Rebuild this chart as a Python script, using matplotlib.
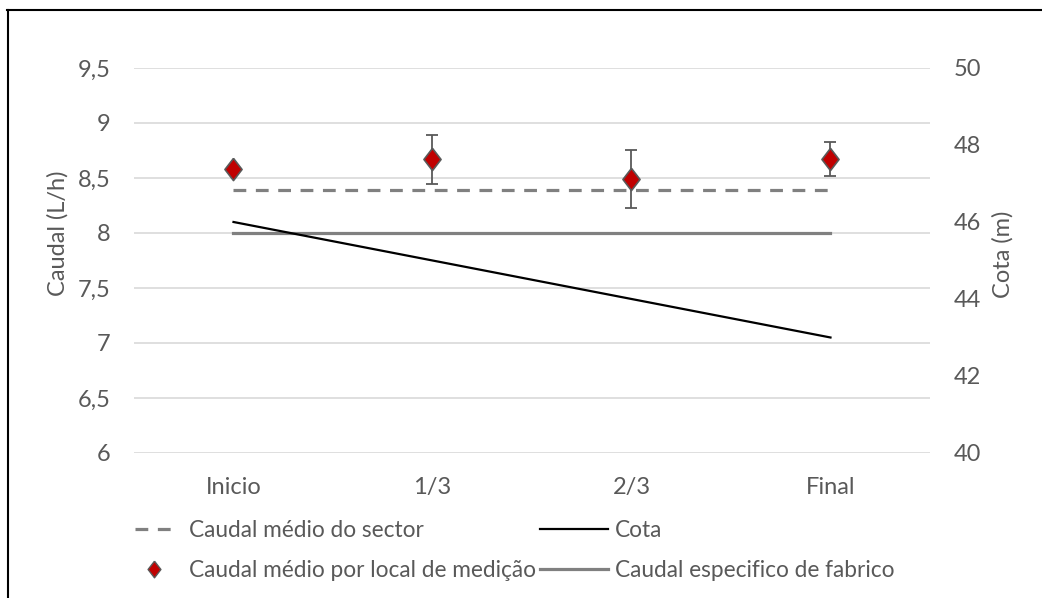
import matplotlib.pyplot as plt
import numpy as np
from matplotlib.lines import Line2D

plt.rcParams['font.family'] = ['Lato', 'DejaVu Sans']

# Measurement points along the lateral
locais = ['Inicio', '1/3', '2/3', 'Final']
caudal_medio = [8.58, 8.67, 8.49, 8.67]        # L/h at each point
caudal_erro = [0.0, 0.225, 0.26, 0.155]        # std deviation, L/h
caudal_sector = [8.39, 8.39, 8.39, 8.39]       # sector mean, L/h
caudal_fabrico = [8.0, 8.0, 8.0, 8.0]          # manufacturer flow, L/h
cota = [46, 45, 44, 43]                        # elevation, m

txt = '#595959'
tracejado = (0, (4, 3))
x = np.arange(len(locais))

fig = plt.figure(figsize=(10.42, 5.98), dpi=100)
ax = fig.add_axes([0.1286, 0.2425, 0.7639, 0.6438])
ax2 = ax.twinx()

# diamond marker, a bit taller than wide
diamante = [(0, 1), (0.77, 0), (0, -1), (-0.77, 0), (0, 1)]

ax.plot(x, caudal_sector, color='#808080', lw=2.3, ls=tracejado, zorder=3)
ax.plot(x, caudal_fabrico, color='#808080', lw=2.3, zorder=3)
ax2.plot(x, cota, color='black', lw=1.6, zorder=3)
ax.errorbar(x, caudal_medio, yerr=caudal_erro, fmt='none', ecolor=txt,
            elinewidth=1.3, capsize=4, capthick=1.3, zorder=4)
ax.plot(x, caudal_medio, ls='none', marker=diamante, markersize=16,
        markerfacecolor='#c00000', markeredgecolor=txt, markeredgewidth=1.2, zorder=5)

ax.set_xlim(-0.5, 3.5)
ax.set_ylim(6, 9.5)
ax.set_yticks(np.arange(6, 9.51, 0.5))
ax.set_yticklabels([f'{v:g}'.replace('.', ',') for v in np.arange(6, 9.51, 0.5)])
ax2.set_ylim(40, 50)
ax2.set_yticks(range(40, 51, 2))
ax.set_xticks(x)
ax.set_xticklabels(locais)

ax.grid(axis='y', color='#d9d9d9', lw=1.2)
ax.set_axisbelow(True)
for a in (ax, ax2):
    for s in a.spines.values():
        s.set_visible(False)
    a.tick_params(length=0, labelsize=17, colors=txt)
ax.tick_params(axis='y', pad=17)
ax.tick_params(axis='x', pad=17)
ax2.tick_params(axis='y', pad=17)

# axis titles
fig.text(0.0557, 0.610, 'Caudal (L/h)', rotation=90, ha='center', va='center',
         fontsize=17, color=txt)
fig.text(0.9626, 0.574, 'Cota (m)', rotation=90, ha='center', va='center',
         fontsize=17, color=txt)

# legend split in two columns with different handle lengths
col1 = [Line2D([], [], color='#808080', lw=2.3, ls=tracejado),
        Line2D([], [], ls='none', marker=diamante, markersize=12,
               markerfacecolor='#c00000', markeredgecolor=txt, markeredgewidth=1)]
col2 = [Line2D([], [], color='black', lw=1.6),
        Line2D([], [], color='#808080', lw=2.3)]
opts = dict(loc='upper left', frameon=False, fontsize=16.3, labelcolor=txt,
            labelspacing=0.82, borderpad=0, borderaxespad=0)
leg1 = fig.legend(col1, ['Caudal médio do sector', 'Caudal médio por local de medição'],
                  bbox_to_anchor=(0.1296, 0.130), handlelength=1.64,
                  handletextpad=0.75, **opts)
leg2 = fig.legend(col2, ['Cota', 'Caudal especifico de fabrico'],
                  bbox_to_anchor=(0.518, 0.130), handlelength=3.0,
                  handletextpad=0.31, **opts)

# frame edges of the chart box
fig.add_artist(Line2D([0.0067, 1.0], [0.984, 0.984], color='black', lw=1.5))
fig.add_artist(Line2D([0.0072, 0.0072], [0.0, 0.984], color='black', lw=1.5))

fig.savefig('out.png', dpi=100)
